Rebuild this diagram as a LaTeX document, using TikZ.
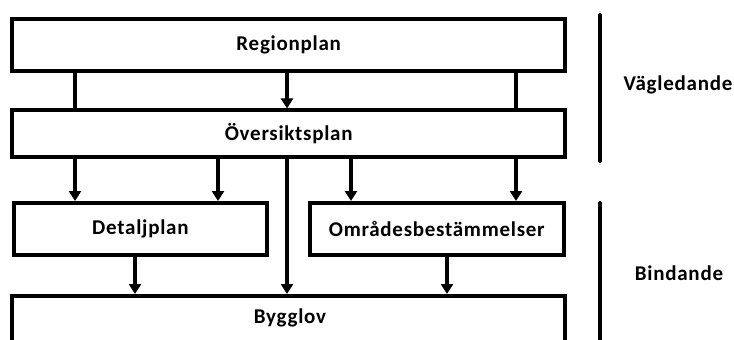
\documentclass[tikz,border=0pt]{standalone}
\usepackage{fontspec}
\setmainfont{Carlito}[LetterSpace=3.5]
\usetikzlibrary{arrows.meta}

\begin{document}
\begin{tikzpicture}[x=1pt, y=-1pt, line width=4pt,
  font=\fontsize{21}{25}\selectfont\bfseries,
  box/.style={draw, rectangle, inner sep=0pt},
  pil/.style={-{Triangle[length=10pt, width=12pt]}},
  bar/.style={line cap=round}]
\clip (0,0) rectangle (734,340);

\node[box, minimum width=552.5pt, minimum height=52pt] (region) at (288.7,44.5) {Regionplan};
\node[box, minimum width=552.5pt, minimum height=46.5pt] (over) at (288.7,133.7) {Översiktsplan};
\node[box, minimum width=253pt, minimum height=52pt] (detalj) at (140.4,229) {Detaljplan};
\node[box, minimum width=254.5pt, minimum height=52pt] (omr) at (436.8,229) {Områdesbestämmelser};
\node[box, minimum width=552.5pt, minimum height=80pt, anchor=north] (bygg) at (288.7,294) {};
\node (byggtext) at (290,318) {Bygglov};

\node (vagl) at (678,85) {Vägledande};
\node (bind) at (679,273) {Bindande};

% regionplan -> oversiktsplan
\foreach \xx in {75,516}
  \draw (region.south -| \xx,0) -- (over.north -| \xx,0);
\draw[pil] (region.south -| 287,0) -- (over.north -| 287,0);

% oversiktsplan -> detaljplan, omradesbestammelser, bygglov
\foreach \xx in {75,218}
  \draw[pil] (over.south -| \xx,0) -- (detalj.north -| \xx,0);
\foreach \xx in {351,516}
  \draw[pil] (over.south -| \xx,0) -- (omr.north -| \xx,0);
\draw[pil] (over.south -| 287,0) -- (bygg.north -| 287,0);

% till bygglov
\draw[pil] (detalj.south -| 135,0) -- (bygg.north -| 135,0);
\draw[pil] (omr.south -| 447,0) -- (bygg.north -| 447,0);

% klamrar
\coordinate (v1) at (600,15);
\coordinate (v2) at (600,161);
\coordinate (b1) at (600,203);
\coordinate (b2) at (600,360);
\draw[bar] (v1) -- (v2);
\draw[bar] (b1) -- (b2);
\end{tikzpicture}
\end{document}
